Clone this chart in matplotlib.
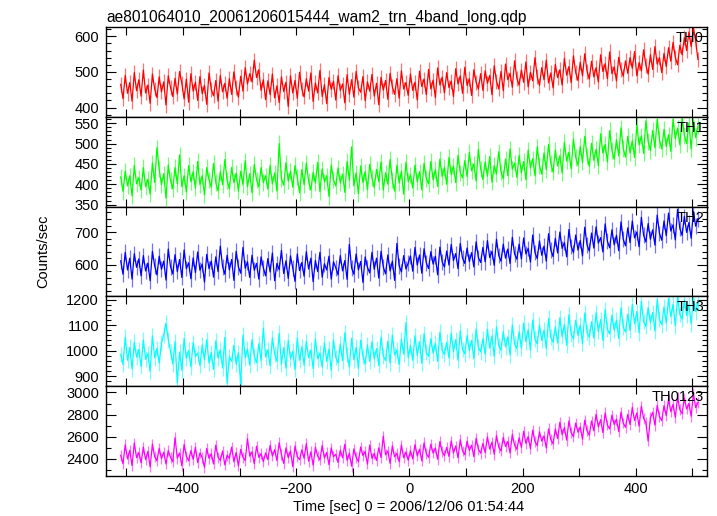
import numpy as np
import matplotlib
matplotlib.use("Agg")
import matplotlib.pyplot as plt
from matplotlib.ticker import MultipleLocator, FuncFormatter

plt.rcParams['font.family'] = ['Liberation Sans', 'DejaVu Sans']

title = "ae801064010_20061206015444_wam2_trn_4band_long.qdp"
xlabel = "Time [sec] 0 = 2006/12/06 01:54:44"
ylabel = "Counts/sec"

# time bins (sec)
time = np.arange(-510, 511, 4)

th0 = [465, 425, 490, 440, 470, 418, 498, 447, 478, 432, 505, 441, 463, 412, 494, 452,
       428, 486, 444, 472, 407, 489, 456, 431, 482, 438, 501, 468, 424, 480, 415, 495,
       446, 471, 420, 487, 439, 462, 409, 497, 451, 433, 476, 418, 490, 444, 468, 426,
       481, 437, 500, 455, 429, 488, 446, 512, 466, 495, 472, 533, 484, 506, 448, 478,
       422, 475, 436, 494, 427, 461, 414, 486, 445, 471, 403, 489, 441, 476, 426, 499,
       452, 430, 481, 446, 497, 417, 469, 441, 504, 431, 464, 411, 484, 451, 474, 421,
       489, 448, 466, 413, 492, 437, 478, 429, 501, 455, 443, 487, 419, 472, 446, 493,
       432, 468, 408, 485, 449, 476, 423, 496, 458, 437, 481, 426, 503, 452, 470, 434,
       494, 448, 471, 421, 502, 459, 480, 436, 507, 452, 477, 428, 511, 463, 485, 441,
       498, 456, 474, 431, 509, 466, 489, 440, 513, 462, 481, 434, 506, 471, 452, 495,
       448, 503, 468, 490, 436, 517, 474, 452, 501, 447, 522, 478, 496, 457, 531, 482,
       463, 505, 471, 528, 458, 499, 475, 540, 486, 462, 512, 478, 533, 469, 497, 455,
       521, 484, 506, 463, 538, 491, 515, 470, 545, 498, 476, 527, 489, 551, 502, 480,
       530, 486, 512, 472, 548, 501, 523, 481, 556, 495, 514, 475, 541, 508, 488, 531,
       496, 540, 510, 557, 489, 526, 503, 562, 519, 494, 548, 507, 571, 522, 540, 498,
       552, 515, 568, 530, 583, 541, 520, 575, 548, 596, 560, 612, 571, 625, 585, 535]

th1 = [418, 382, 432, 396, 421, 371, 446, 401, 416, 386, 441, 394, 412, 376, 452, 404,
       490, 437, 399, 426, 366, 447, 409, 389, 441, 401, 472, 394, 421, 381, 446, 406,
       431, 391, 456, 399, 421, 374, 441, 411, 393, 451, 404, 384, 431, 399, 461, 409,
       389, 441, 404, 427, 383, 432, 399, 458, 394, 426, 379, 449, 411, 394, 441, 404,
       421, 388, 446, 401, 428, 383, 500, 414, 398, 453, 408, 432, 393, 446, 417, 379,
       436, 399, 452, 407, 386, 429, 403, 454, 382, 438, 406, 421, 370, 447, 411, 396,
       440, 403, 425, 380, 456, 410, 492, 396, 428, 377, 445, 404, 431, 387, 449, 415,
       392, 437, 406, 455, 386, 428, 400, 461, 410, 383, 447, 403, 432, 376, 454, 407,
       423, 391, 447, 406, 431, 386, 452, 414, 401, 456, 411, 436, 395, 462, 419, 441,
       400, 466, 424, 445, 404, 471, 428, 416, 458, 419, 478, 433, 450, 408, 486, 438,
       412, 455, 420, 468, 405, 446, 425, 480, 430, 414, 462, 421, 487, 437, 452, 417,
       471, 428, 456, 411, 484, 440, 463, 421, 492, 446, 425, 477, 436, 498, 451, 430,
       484, 445, 470, 428, 503, 457, 479, 438, 511, 466, 447, 493, 454, 518, 470, 444,
       501, 459, 486, 446, 524, 477, 498, 455, 532, 483, 462, 509, 470, 539, 488, 467,
       518, 477, 507, 466, 545, 497, 519, 476, 556, 505, 483, 532, 490, 560, 510, 487,
       535, 493, 522, 481, 560, 512, 538, 497, 563, 520, 500, 551, 487, 558, 515, 543]

th2 = [612, 571, 638, 584, 620, 556, 634, 592, 618, 566, 628, 581, 605, 551, 641, 597,
       569, 626, 586, 611, 553, 648, 594, 572, 631, 579, 616, 561, 645, 588, 606, 557,
       621, 576, 639, 583, 602, 547, 632, 588, 611, 562, 624, 579, 657, 594, 571, 629,
       584, 616, 552, 641, 593, 574, 653, 589, 609, 561, 629, 583, 604, 556, 624, 591,
       566, 619, 578, 636, 551, 604, 585, 644, 573, 612, 558, 627, 590, 549, 633, 582,
       607, 565, 640, 587, 620, 548, 613, 579, 638, 562, 603, 584, 626, 556, 609, 591,
       569, 628, 581, 613, 555, 662, 590, 571, 633, 584, 610, 546, 624, 592, 575, 638,
       586, 620, 559, 641, 593, 572, 630, 581, 611, 552, 665, 597, 578, 628, 587, 605,
       627, 580, 653, 599, 630, 574, 649, 606, 588, 640, 602, 626, 569, 654, 609, 593,
       642, 599, 662, 613, 634, 588, 665, 620, 604, 651, 610, 637, 593, 670, 622, 607,
       653, 609, 674, 622, 641, 598, 678, 628, 611, 663, 620, 648, 604, 684, 633, 617,
       663, 618, 682, 633, 650, 608, 691, 637, 619, 673, 629, 657, 611, 695, 645, 625,
       681, 636, 700, 650, 668, 624, 708, 656, 637, 691, 645, 674, 627, 715, 661, 642,
       697, 651, 716, 666, 683, 639, 725, 672, 652, 707, 661, 690, 643, 731, 678, 658,
       713, 668, 734, 682, 700, 655, 745, 690, 670, 726, 678, 707, 660, 752, 696, 675,
       734, 689, 758, 703, 722, 676, 770, 711, 690, 748, 699, 729, 681, 763, 718, 741]

th3 = [985, 946, 1052, 962, 1013, 928, 1033, 974, 1004, 937, 1041, 966, 988, 918, 1058, 972,
       1008, 951, 1030, 1062, 1108, 1044, 996, 948, 1035, 873, 994, 923, 1047, 969, 1001, 936,
       1032, 977, 990, 941, 1022, 963, 1043, 951, 992, 926, 1038, 971, 1003, 932, 1052, 872,
       976, 958, 1021, 946, 992, 868, 1061, 972, 1006, 943, 1043, 978, 952, 1027, 961, 1088,
       975, 1003, 940, 1051, 986, 958, 1068, 947, 1012, 931, 1040, 968, 997, 926, 1049, 962,
       1015, 943, 1036, 972, 1002, 929, 1045, 968, 990, 935, 1031, 958, 1007, 922, 1042, 973,
       951, 1026, 960, 1070, 985, 936, 1048, 964, 1013, 930, 1041, 977, 947, 1022, 958, 1035,
       967, 1008, 941, 1053, 979, 961, 1037, 951, 1060, 983, 1002, 945, 1044, 986, 1110, 972,
       1020, 962, 1058, 981, 1035, 950, 1066, 993, 978, 1047, 990, 1029, 958, 1072, 1001, 985,
       1033, 971, 1068, 996, 1043, 962, 1077, 1004, 987, 1059, 1000, 1040, 968, 1085, 1013, 995,
       1047, 985, 1084, 1010, 1058, 977, 1093, 1019, 1002, 1074, 1015, 1054, 983, 1101, 1027, 1008,
       1074, 1010, 1108, 1035, 1082, 1001, 1120, 1045, 1027, 1100, 1040, 1080, 1008, 1127, 1052, 1033,
       1093, 1030, 1129, 1055, 1103, 1021, 1141, 1064, 1046, 1119, 1060, 1100, 1028, 1148, 1072, 1053,
       1113, 1049, 1149, 1075, 1122, 1040, 1161, 1084, 1066, 1139, 1080, 1119, 1048, 1168, 1092, 1073,
       1143, 1079, 1181, 1105, 1153, 1070, 1193, 1114, 1095, 1169, 1110, 1150, 1077, 1200, 1123, 1102,
       1172, 1108, 1205, 1134, 1182, 1098, 1210, 1142, 1124, 1200, 1138, 1180, 1106, 1208, 1153, 1190]

th0123 = [2430, 2355, 2525, 2398, 2476, 2338, 2542, 2410, 2455, 2362, 2505, 2392, 2466, 2325, 2532, 2418,
          2382, 2494, 2401, 2458, 2352, 2474, 2412, 2372, 2590, 2405, 2452, 2336, 2528, 2421, 2381, 2473,
          2394, 2502, 2365, 2452, 2411, 2322, 2493, 2404, 2444, 2352, 2523, 2413, 2384, 2470, 2343, 2432,
          2403, 2504, 2372, 2455, 2334, 2484, 2414, 2383, 2581, 2423, 2462, 2354, 2513, 2412, 2445, 2373,
          2452, 2392, 2521, 2424, 2482, 2383, 2545, 2436, 2357, 2498, 2410, 2471, 2328, 2515, 2419, 2391,
          2480, 2404, 2536, 2377, 2462, 2341, 2502, 2425, 2388, 2519, 2407, 2456, 2346, 2497, 2418, 2439,
          2366, 2476, 2408, 2531, 2385, 2449, 2332, 2488, 2414, 2373, 2506, 2428, 2465, 2351, 2523, 2402,
          2447, 2383, 2498, 2411, 2603, 2435, 2470, 2358, 2515, 2417, 2449, 2372, 2524, 2409, 2461, 2386,
          2472, 2398, 2528, 2425, 2486, 2380, 2543, 2446, 2412, 2531, 2451, 2496, 2395, 2556, 2463, 2428,
          2502, 2421, 2561, 2452, 2515, 2408, 2572, 2470, 2436, 2558, 2475, 2522, 2419, 2585, 2486, 2450,
          2538, 2455, 2597, 2488, 2550, 2440, 2608, 2505, 2471, 2593, 2510, 2557, 2452, 2620, 2521, 2485,
          2589, 2503, 2648, 2538, 2601, 2490, 2659, 2555, 2520, 2643, 2560, 2606, 2497, 2670, 2571, 2535,
          2670, 2582, 2730, 2618, 2682, 2568, 2742, 2635, 2600, 2723, 2640, 2687, 2576, 2750, 2652, 2614,
          2742, 2652, 2802, 2688, 2754, 2637, 2815, 2705, 2670, 2795, 2710, 2758, 2645, 2822, 2723, 2685,
          2802, 2710, 2865, 2746, 2815, 2695, 2875, 2765, 2728, 2560, 2770, 2820, 2704, 2882, 2782, 2745,
          2880, 2790, 2940, 2826, 2893, 2775, 2955, 2845, 2808, 2950, 2850, 2900, 2785, 2990, 2862, 2910]

# typical 1-sigma error bar of each band (counts/sec)
errors = [21, 20, 24, 31, 49]

series = [th0, th1, th2, th3, th0123]
names = ["TH0", "TH1", "TH2", "TH3", "TH0123"]
colors = ["#ff0000", "#00ff00", "#0000ff", "#00ffff", "#ff00ff"]
ylims = [(374, 626), (345, 566), (503, 778), (860, 1213), (2243, 3057)]
majors = [100, 50, 100, 100, 200]
minors = [20, 10, 20, 20, 100]
xlim = (-536, 526)

W, H = 717, 516
fig = plt.figure(figsize=(W / 100, H / 100), dpi=100)
left, right = 106, 707
top, bottom = 27, 476
ph = (bottom - top) / 5.0


def xfmt(v, p):
    iv = int(round(v))
    if iv % 200 != 0:
        return ""
    return "\u2212%d" % abs(iv) if iv < 0 else "%d" % iv


for k in range(5):
    y0 = top + k * ph
    ax = fig.add_axes([left / W, 1 - (y0 + ph) / H, (right - left) / W, ph / H])
    ax.errorbar(time, series[k], yerr=errors[k], fmt='none', ecolor=colors[k],
                elinewidth=0.9, alpha=0.55, capsize=0)
    ax.plot(time, series[k], color=colors[k], lw=0.9)
    ax.set_xlim(*xlim)
    ax.set_ylim(*ylims[k])
    ax.xaxis.set_major_locator(MultipleLocator(100))
    ax.yaxis.set_major_locator(MultipleLocator(majors[k]))
    ax.yaxis.set_minor_locator(MultipleLocator(minors[k]))
    ax.tick_params(axis='both', which='both', direction='in', top=True, right=True,
                   labelsize=10.5, width=0.8, colors='black')
    ax.tick_params(axis='x', which='major', length=6, pad=4)
    ax.tick_params(axis='y', which='major', length=7, pad=5)
    ax.tick_params(axis='y', which='minor', length=3.5)
    for s in ax.spines.values():
        s.set_linewidth(1.0)
    if k < 4:
        ax.set_xticklabels([])
    else:
        ax.xaxis.set_major_formatter(FuncFormatter(xfmt))
    ax.text(1 - 3 / (right - left), 1 - 11 / ph, names[k], transform=ax.transAxes,
            ha='right', va='center', fontsize=10.5, color='black')
    if k == 0:
        ax.set_title(title, loc='left', fontsize=11.2, pad=4)

fig.text(43 / W, 1 - 251 / H, ylabel, rotation=90, ha='center', va='center', fontsize=10.5)
fig.text(409 / W, 1 - 507 / H, xlabel, ha='center', va='center', fontsize=10.5)

fig.savefig("out.png", dpi=100)
